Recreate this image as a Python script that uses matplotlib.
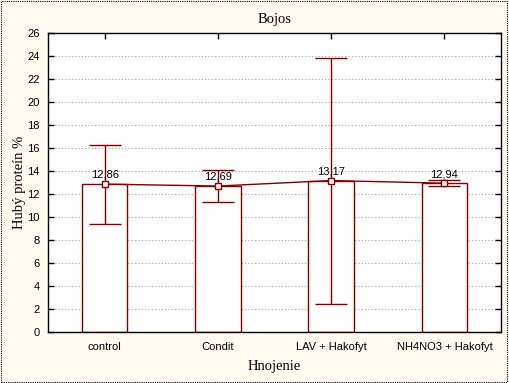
import matplotlib
matplotlib.use("Agg")
import matplotlib.pyplot as plt
from matplotlib.patches import Rectangle

# Data
categories = ["control", "Condit", "LAV + Hakofyt", "NH4NO3 + Hakofyt"]
means = [12.86, 12.69, 13.17, 12.94]
upper = [16.25, 14.1, 23.8, 13.2]
lower = [9.4, 11.3, 2.4, 12.7]
yticks = list(range(0, 27, 2))

red = "#800000"
bg = "#fffbf0"

fig = plt.figure(figsize=(5.09, 3.83), dpi=100, facecolor=bg)
ax = fig.add_axes([0.0943, 0.1332, 0.89, 0.7806])
ax.set_facecolor("white")

x = [i + 0.5 for i in range(len(categories))]
ax.bar(x, means, width=0.4, color="white", edgecolor=red, linewidth=1, zorder=2)
ax.plot(x, means, color=red, linewidth=1, zorder=3)

err_lo = [m - l for m, l in zip(means, lower)]
err_hi = [u - m for m, u in zip(means, upper)]
ax.errorbar(x, means, yerr=[err_lo, err_hi], fmt="none", ecolor=red,
            elinewidth=1, capsize=11.5, capthick=1, zorder=4)
ax.plot(x, means, "s", markersize=4.5, markerfacecolor="white",
        markeredgecolor=red, markeredgewidth=1, zorder=5)

for xi, m in zip(x, means):
    ax.annotate(f"{m:.2f}".replace(".", ","), (xi, m), xytext=(0, 3),
                textcoords="offset points", ha="center", va="bottom",
                fontsize=8, family="Liberation Sans", zorder=6)

ax.set_xlim(0, 4)
ax.set_ylim(0, 26)
ax.set_yticks(yticks)
ax.set_xticks(x)
ax.set_xticklabels(categories, family="Liberation Sans", fontsize=8)
ax.set_yticklabels([str(t) for t in yticks], family="Liberation Sans", fontsize=8)
ax.tick_params(direction="in", top=True, right=True, length=4, width=1, pad=6)
ax.tick_params(axis="x", pad=7)
ax.grid(axis="y", linestyle=(0, (1, 2)), color="#a0a0a0", linewidth=0.8, zorder=0)
for s in ax.spines.values():
    s.set_linewidth(1)
    s.set_color("black")

ax.set_title("Bojos", family="Liberation Serif", fontsize=10.5, pad=7)
ax.set_xlabel("Hnojenie", family="Liberation Serif", fontsize=10.5, labelpad=6)
ax.set_ylabel("Hubý proteín %", family="Liberation Serif", fontsize=10.5, labelpad=1)

fig.patches.append(Rectangle((0.002, 0.003), 0.994, 0.994, transform=fig.transFigure,
                             fill=False, edgecolor="black", linewidth=0.8,
                             linestyle=(0, (1, 1))))

fig.savefig("out.png", dpi=100, facecolor=bg)
